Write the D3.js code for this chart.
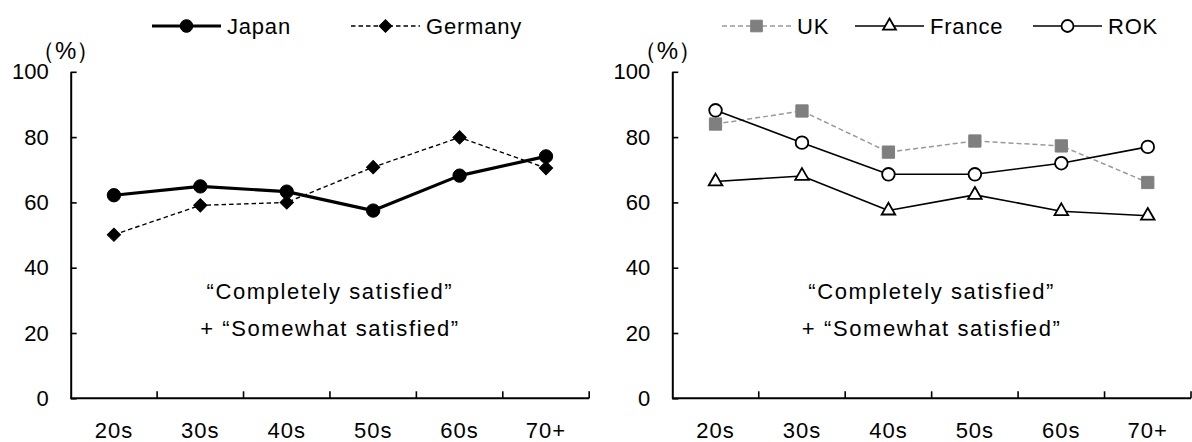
<!DOCTYPE html>
<html>
<head>
<meta charset="utf-8">
<script src="https://cdn.jsdelivr.net/npm/d3@7"></script>
<style>
  html, body { margin: 0; padding: 0; background: #fff; }
  svg { display: block; }
  text { font-family: "Liberation Sans", Arial, sans-serif; fill: #000; }
</style>
</head>
<body>
<svg id="chart" width="1192" height="442"></svg>
<script>
// Age groups on the x axis and value ticks on the y axis
const ageGroups = ["20s", "30s", "40s", "50s", "60s", "70+"];
const yTicks = [0, 20, 40, 60, 80, 100];

// Share satisfied (%) by age group
const japan   = [62.2, 64.9, 63.3, 57.5, 68.2, 74.1];
const germany = [50.1, 59.1, 60.0, 70.8, 79.9, 70.5];
const uk      = [84.0, 88.0, 75.4, 78.8, 77.3, 66.1];
const france  = [66.4, 68.1, 57.5, 62.3, 57.3, 55.9];
const rok     = [88.2, 78.3, 68.6, 68.6, 72.0, 77.0];

const seriesNames = { japan: "Japan", germany: "Germany", uk: "UK", france: "France", rok: "ROK" };
const noteLines = ["\u201CCompletely satisfied\u201D", "+ \u201CSomewhat satisfied\u201D"];
const unitLabel = "\uFF08%\uFF09";

const svg = d3.select("#chart");
const FONT = 22;

// marker shapes
const shapes = {
  circle:   d3.symbol().type(d3.symbolCircle),
  diamond:  d3.symbol().type(d3.symbolSquare),
  square:   d3.symbol().type(d3.symbolSquare),
  triangle: d3.symbol().type(d3.symbolTriangle)
};

const styles = {
  japan:   { stroke: "#000", width: 3.2, dash: null, shape: "circle", size: 140, fill: "#000", mStroke: "#000", mWidth: 1, rotate: 0 },
  germany: { stroke: "#000", width: 1.4, dash: "4.5,3", shape: "diamond", size: 88, fill: "#000", mStroke: "#000", mWidth: 1, rotate: 45 },
  uk:      { stroke: "#999", width: 1.5, dash: "5,3", shape: "square", size: 150, fill: "#7f7f7f", mStroke: "#7f7f7f", mWidth: 1, rotate: 0 },
  france:  { stroke: "#000", width: 1.6, dash: null, shape: "triangle", size: 80, fill: "#fff", mStroke: "#000", mWidth: 1.8, rotate: 0 },
  rok:     { stroke: "#000", width: 1.6, dash: null, shape: "circle", size: 125, fill: "#fff", mStroke: "#000", mWidth: 1.8, rotate: 0 }
};

function drawMarker(g, key, cx, cy, scale) {
  const s = styles[key];
  g.append("path")
    .attr("d", shapes[s.shape].size(s.size * (scale || 1))())
    .attr("transform", `translate(${cx},${cy}) rotate(${s.rotate})`)
    .attr("fill", s.fill)
    .attr("stroke", s.mStroke)
    .attr("stroke-width", s.mWidth);
}

function drawPanel(cfg) {
  const g = svg.append("g");
  const x = d3.scaleBand().domain(ageGroups).range([cfg.x0, cfg.x1]).padding(0);
  const y = d3.scaleLinear().domain([0, 100]).range([398.3, 71.8]);
  const bw = x.bandwidth();

  // y axis with inward ticks
  const yAxis = g.append("g")
    .attr("transform", `translate(${cfg.x0},0)`)
    .call(d3.axisLeft(y).tickValues(yTicks).tickSize(-6).tickSizeOuter(0).tickPadding(22));
  yAxis.select(".domain").attr("stroke", "#000").attr("stroke-width", 2);
  yAxis.selectAll(".tick line").attr("stroke", "#000").attr("stroke-width", 1.6);
  yAxis.selectAll(".tick text")
    .attr("font-size", FONT)
    .attr("font-family", "Liberation Sans, Arial, sans-serif")
    .attr("fill", "#000");

  // x axis baseline, ticks between groups and labels
  g.append("line")
    .attr("x1", cfg.x0).attr("x2", cfg.x1)
    .attr("y1", y(0)).attr("y2", y(0))
    .attr("stroke", "#000").attr("stroke-width", 2);
  g.selectAll(".xtick").data(ageGroups).join("line")
    .attr("class", "xtick")
    .attr("x1", d => x(d) + bw).attr("x2", d => x(d) + bw)
    .attr("y1", y(0)).attr("y2", y(0) - 7)
    .attr("stroke", "#000").attr("stroke-width", 1.6);
  g.selectAll(".xlabel").data(ageGroups).join("text")
    .attr("class", "xlabel")
    .attr("x", d => x(d) + bw / 2)
    .attr("y", y(0) + 32)
    .attr("text-anchor", "middle")
    .attr("dominant-baseline", "central")
    .attr("font-size", FONT)
    .attr("letter-spacing", 1)
    .text(d => d);

  // unit label
  g.append("text")
    .attr("x", cfg.x0 - 5)
    .attr("y", 50)
    .attr("text-anchor", "middle")
    .attr("dominant-baseline", "central")
    .attr("font-family", "Noto Sans CJK JP, sans-serif")
    .attr("font-size", 24)
    .attr("font-weight", 500)
    .text(unitLabel);

  // note text in the lower part of the plot
  const cx = (cfg.x0 + cfg.x1) / 2;
  noteLines.forEach((t, i) => {
    g.append("text")
      .attr("x", cx)
      .attr("y", 291.7 + i * 36.5)
      .attr("text-anchor", "middle")
      .attr("dominant-baseline", "central")
      .attr("font-size", FONT)
      .attr("letter-spacing", 1.6)
      .text(t);
  });

  // series lines and markers
  const line = d3.line().x((d, i) => x(ageGroups[i]) + bw / 2).y(d => y(d));
  cfg.series.forEach(sr => {
    const s = styles[sr.key];
    g.append("path")
      .datum(sr.values)
      .attr("d", line)
      .attr("fill", "none")
      .attr("stroke", s.stroke)
      .attr("stroke-width", s.width)
      .attr("stroke-dasharray", s.dash)
      .attr("stroke-linejoin", "round");
    sr.values.forEach((v, i) => drawMarker(g, sr.key, x(ageGroups[i]) + bw / 2, y(v)));
  });

  // legend
  cfg.legend.forEach(item => {
    const s = styles[item.key];
    const ly = 26;
    g.append("line")
      .attr("x1", item.x).attr("x2", item.x + 69)
      .attr("y1", ly).attr("y2", ly)
      .attr("stroke", s.stroke)
      .attr("stroke-width", s.width)
      .attr("stroke-dasharray", s.dash);
    drawMarker(g, item.key, item.x + 34.5, ly, 0.9);
    g.append("text")
      .attr("x", item.x + 75)
      .attr("y", ly)
      .attr("dominant-baseline", "central")
      .attr("font-size", FONT)
      .attr("letter-spacing", 0.8)
      .text(seriesNames[item.key]);
  });
}

drawPanel({
  x0: 70.7, x1: 589.2,
  series: [{ key: "germany", values: germany }, { key: "japan", values: japan }],
  legend: [{ key: "japan", x: 152 }, { key: "germany", x: 351 }]
});

drawPanel({
  x0: 672.3, x1: 1191,
  series: [{ key: "uk", values: uk }, { key: "france", values: france }, { key: "rok", values: rok }],
  legend: [{ key: "uk", x: 722 }, { key: "france", x: 855 }, { key: "rok", x: 1033 }]
});
</script>
</body>
</html>
